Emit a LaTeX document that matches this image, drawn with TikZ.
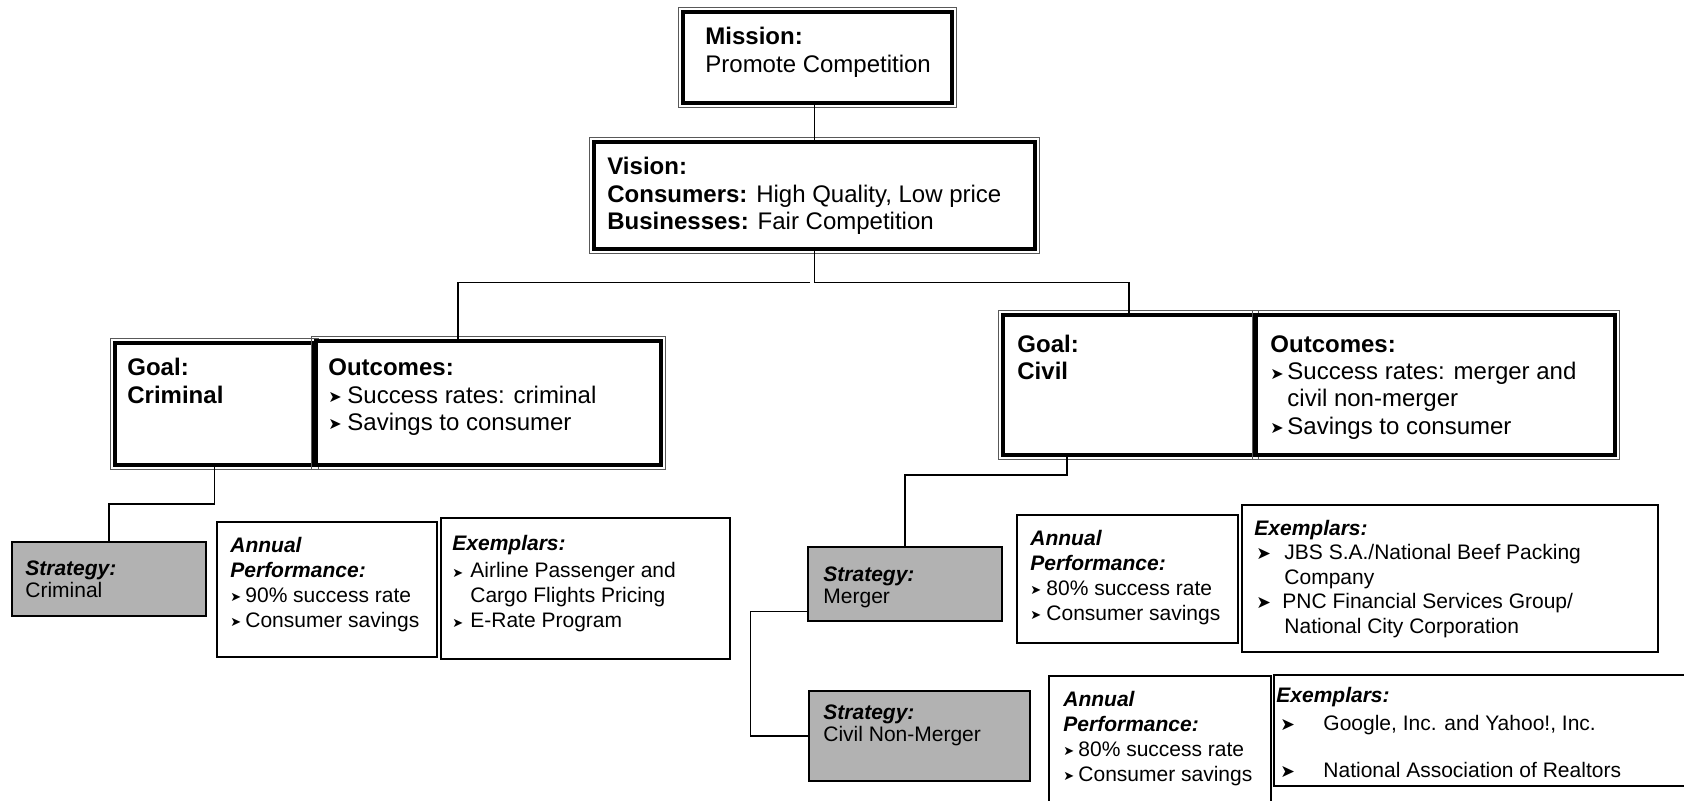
\documentclass[tikz,border=0pt]{standalone}
\usepackage{fontspec}
\setmainfont{Liberation Sans}
\newfontfamily\symfont{DejaVu Sans}
\usetikzlibrary{fit,calc}
\definecolor{stratgray}{RGB}{178,178,178}
\newcommand\blbig{\raisebox{0.2pt}{\symfont\fontsize{8}{8}\selectfont ➤}}
\newcommand\blsm{\raisebox{0.2pt}{\symfont\fontsize{6.5}{6.5}\selectfont ➤}}
\newcommand\blex{\raisebox{-0.2pt}{\symfont\fontsize{8.75}{8.75}\selectfont ➤}}
\newcommand\frameit[1]{\draw[thinframe] ([xshift=-2.15pt,yshift=2.15pt]#1.north west) rectangle ([xshift=2.15pt,yshift=-2.15pt]#1.south east);}
\newcommand\lines[1]{\begin{tabular}[t]{@{}l@{}}#1\end{tabular}}
\begin{document}
\begin{tikzpicture}[x=0.5pt,y=-0.5pt,
  dbox/.style={draw=black,line width=1.75pt,inner sep=0pt,outer sep=0pt,fill=white},
  sbox/.style={draw=black,line width=1pt,inner sep=0pt,outer sep=0pt,fill=white},
  gbox/.style={draw=black,line width=1pt,inner sep=0pt,outer sep=0pt,fill=stratgray},
  thinframe/.style={draw=black!65,line width=0.5pt},
  conn/.style={draw=black,line width=0.75pt},
  bigtxt/.style={anchor=base west,inner sep=0pt,font=\fontsize{12}{13.6}\selectfont},
  smtxt/.style={anchor=base west,inner sep=0pt,font=\fontsize{10.5}{12.5}\selectfont},
  extxt/.style={anchor=base west,inner sep=0pt,font=\fontsize{10.5}{12.25}\selectfont},
  sttxt/.style={anchor=base west,inner sep=0pt,font=\fontsize{10.5}{11.25}\selectfont}]
\clip (0,0) rectangle (1684,801);
\fill[white] (0,0) rectangle (1684,801);

% upper double boxes
\node[dbox,fit={(683,12) (952,103)}] (mission) {};
\frameit{mission}
\node[dbox,fit={(594,142) (1035,249)}] (vision) {};
\frameit{vision}
\node[dbox,fit={(115,343) (314,465)}] (critgoal) {};
\frameit{critgoal}
\node[dbox,fit={(316,341) (661,465)}] (critout) {};
\frameit{critout}
\node[dbox,fit={(1003,315) (1254.5,455)}] (civgoal) {};
\frameit{civgoal}
\node[dbox,fit={(1256.5,315) (1615,455)}] (civout) {};
\frameit{civout}

% lower boxes
\node[gbox,fit={(12,542) (206,616)}] (critstrat) {};
\node[sbox,fit={(217,522) (437,657)}] (critann) {};
\node[sbox,fit={(441,518) (730,659)}] (critex) {};
\node[gbox,fit={(808,547) (1002,621)}] (mergstrat) {};
\node[sbox,fit={(1017,515) (1238,643)}] (mergann) {};
\node[sbox,fit={(1242,505) (1658,652)}] (mergex) {};
\node[gbox,fit={(809,691) (1030,781)}] (nmstrat) {};
\node[sbox,fit={(1049,676) (1271,815)}] (nmann) {};
\node[sbox,fit={(1274,675) (1695,786)}] (nmex) {};

% texts
\node[bigtxt] (missiontxt) at (705,45) {\lines{\textbf{Mission:}\\Promote Competition}};
\node[bigtxt] (visiontxt) at (607,175) {\lines{\textbf{Vision:}\\\textbf{Consumers:} High Quality, Low price\\\textbf{Businesses:} Fair Competition}};
\node[bigtxt] (critgoaltxt) at (127,376) {\lines{\textbf{Goal:}\\\textbf{Criminal}}};
\node[bigtxt] (critouttxt) at (328,376) {\lines{\textbf{Outcomes:}\\\makebox[9.5pt][l]{\blbig}Success rates: criminal\\\makebox[9.5pt][l]{\blbig}Savings to consumer}};
\node[bigtxt] (civgoaltxt) at (1017,352.5) {\lines{\textbf{Goal:}\\\textbf{Civil}}};
\node[bigtxt] (civouttxt) at (1270,352.5) {\lines{\textbf{Outcomes:}\\\makebox[8.5pt][l]{\blbig}Success rates: merger and\\\hspace*{8.5pt}civil non-merger\\\makebox[8.5pt][l]{\blbig}Savings to consumer}};

\node[sttxt] (critstrattxt) at (25,575) {\lines{\textbf{\textit{Strategy:}}\\Criminal}};
\node[smtxt] (critanntxt) at (230,552) {\lines{\textbf{\textit{Annual}}\\\textbf{\textit{Performance:}}\\\makebox[7.5pt][l]{\blsm}90\% success rate\\\makebox[7.5pt][l]{\blsm}Consumer savings}};
\node[smtxt] (critextxt) at (452,550.5) {\lines{\textbf{\textit{Exemplars:}}\\[1pt]\makebox[9pt][l]{\blsm}Airline Passenger and\\\hspace*{9pt}Cargo Flights Pricing\\\makebox[9pt][l]{\blsm}E-Rate Program}};

\node[sttxt] (mergstrattxt) at (823,581) {\lines{\textbf{\textit{Strategy:}}\\Merger}};
\node[smtxt] (merganntxt) at (1030,545) {\lines{\textbf{\textit{Annual}}\\\textbf{\textit{Performance:}}\\\makebox[8pt][l]{\blsm}80\% success rate\\\makebox[8pt][l]{\blsm}Consumer savings}};
\node[extxt] (mergextxt) at (1254,535) {\lines{\textbf{\textit{Exemplars:}}\\\hspace*{1pt}\makebox[14pt][l]{\blex}JBS S.A./National Beef Packing\\\hspace*{15pt}Company\\\hspace*{1pt}\makebox[13pt][l]{\blex}PNC Financial Services Group/\\\hspace*{15pt}National City Corporation}};

\node[sttxt] (nmstrattxt) at (823,719) {\lines{\textbf{\textit{Strategy:}}\\Civil Non-Merger}};
\node[smtxt] (nmanntxt) at (1063,706) {\lines{\textbf{\textit{Annual}}\\\textbf{\textit{Performance:}}\\\makebox[7.5pt][l]{\blsm}80\% success rate\\\makebox[7.5pt][l]{\blsm}Consumer savings}};
\node[extxt] (nmextxt) at (1276,702) {\lines{\textbf{\textit{Exemplars:}}\\[1.75pt]\hspace*{2pt}\makebox[21.5pt][l]{\blex}Google, Inc. and Yahoo!, Inc.\\[11.25pt]\hspace*{2pt}\makebox[21.5pt][l]{\blex}National Association of Realtors}};

% connectors
\coordinate (jn) at (815,282.5);
\coordinate (jl) at (810,282.5);
\draw[conn] (vision.north) -- (vision.north |- mission.south);
\draw[conn] (vision.south) -- (vision.south |- jn) -| (civgoal.north);
\draw[conn] (jl) -| ([xshift=-15.25pt]critout.north);
\draw[conn] (critgoal.south) -- ++(0,39) -| (critstrat.north);
\draw[conn] ([xshift=-31pt]civgoal.south) -- ++(0,20) -| (mergstrat.north);
\draw[conn] ([yshift=-13.85pt]mergstrat.west) -- ++(-57.5,0) |- (nmstrat.west);
\end{tikzpicture}
\end{document}
